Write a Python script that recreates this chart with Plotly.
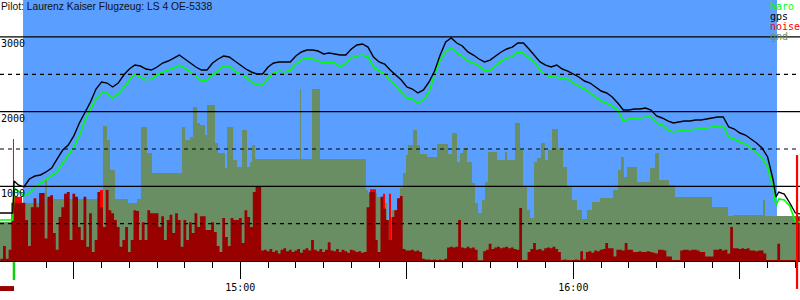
import plotly.graph_objects as go
import pandas as pd

DAY = "2000-01-01 "

# ---- flight track (sampled once per minute) ----
TRACK_TIMES = [
    "14:16", "14:17", "14:18", "14:19", "14:19:15", "14:20", "14:21", "14:22", "14:23", "14:24",
    "14:25", "14:26", "14:27", "14:28", "14:29", "14:30", "14:31", "14:32", "14:33", "14:34",
    "14:35", "14:36", "14:37", "14:38", "14:39", "14:40", "14:41", "14:42", "14:43", "14:44",
    "14:45", "14:46", "14:47", "14:48", "14:49", "14:50", "14:51", "14:52", "14:53", "14:54",
    "14:55", "14:56", "14:57", "14:58", "14:59", "15:00", "15:01", "15:02", "15:03", "15:04",
    "15:05", "15:06", "15:07", "15:08", "15:09", "15:10", "15:11", "15:12", "15:13", "15:14",
    "15:15", "15:16", "15:17", "15:18", "15:19", "15:20", "15:21", "15:22", "15:23", "15:24",
    "15:25", "15:26", "15:27", "15:28", "15:29", "15:30", "15:31", "15:32", "15:33", "15:34",
    "15:35", "15:36", "15:37", "15:38", "15:39", "15:40", "15:41", "15:42", "15:43", "15:44",
    "15:45", "15:46", "15:47", "15:48", "15:49", "15:50", "15:51", "15:52", "15:53", "15:54",
    "15:55", "15:56", "15:57", "15:58", "15:59", "16:00", "16:01", "16:02", "16:03", "16:04",
    "16:05", "16:06", "16:07", "16:08", "16:09", "16:10", "16:11", "16:12", "16:13", "16:14",
    "16:15", "16:16", "16:17", "16:18", "16:19", "16:20", "16:21", "16:22", "16:23", "16:24",
    "16:25", "16:26", "16:27", "16:28", "16:29", "16:30", "16:31", "16:32", "16:33", "16:34",
    "16:35", "16:36", "16:36:30", "16:37", "16:38", "16:39", "16:40", "16:41",
]

GPS_ALT = [
    643, 643, 643, 643, 1071, 1018, 991, 1098, 1138, 1152,
    1192, 1245, 1366, 1486, 1553, 1674, 1848, 1982, 2129, 2303,
    2397, 2383, 2330, 2383, 2491, 2571, 2624, 2611, 2571, 2557,
    2598, 2651, 2678, 2718, 2758, 2705, 2651, 2598, 2557, 2557,
    2651, 2705, 2745, 2732, 2678, 2624, 2571, 2531, 2504, 2504,
    2598, 2651, 2665, 2665, 2665, 2745, 2799, 2825, 2825, 2812,
    2772, 2785, 2772, 2758, 2758, 2839, 2892, 2906, 2865, 2732,
    2665, 2638, 2557, 2491, 2424, 2330, 2303, 2250, 2290, 2397,
    2544, 2758, 2932, 2986, 2919, 2879, 2799, 2758, 2705, 2665,
    2691, 2745, 2799, 2839, 2865, 2919, 2919, 2839, 2758, 2665,
    2624, 2598, 2624, 2571, 2544, 2504, 2464, 2410, 2383, 2330,
    2276, 2250, 2196, 2116, 2022, 2022, 2035, 2035, 2049, 2022,
    1942, 1915, 1875, 1848, 1861, 1875, 1875, 1888, 1888, 1901,
    1915, 1928, 1928, 1794, 1767, 1714, 1687, 1634, 1580, 1513,
    1393, 1085, 857, 924, 897, 777, 643, 629,
]

BARO_ALT = [
    549, 549, 549, 549, 977, 937, 870, 911, 991, 1044,
    1085, 1138, 1192, 1312, 1419, 1526, 1674, 1888, 2035, 2169,
    2250, 2250, 2183, 2236, 2316, 2424, 2504, 2464, 2424, 2437,
    2491, 2531, 2557, 2584, 2624, 2584, 2531, 2477, 2410, 2424,
    2491, 2557, 2611, 2611, 2544, 2504, 2464, 2397, 2357, 2357,
    2450, 2517, 2544, 2531, 2557, 2638, 2691, 2718, 2705, 2678,
    2651, 2665, 2651, 2598, 2651, 2718, 2745, 2758, 2732, 2598,
    2544, 2504, 2424, 2343, 2263, 2183, 2169, 2116, 2156, 2263,
    2504, 2691, 2812, 2852, 2785, 2745, 2678, 2651, 2611, 2544,
    2557, 2624, 2678, 2718, 2732, 2799, 2785, 2718, 2665, 2557,
    2491, 2464, 2464, 2437, 2437, 2383, 2343, 2303, 2250, 2196,
    2142, 2116, 2075, 2022, 1875, 1901, 1915, 1915, 1928, 1928,
    1848, 1821, 1754, 1727, 1741, 1754, 1754, 1767, 1767, 1781,
    1794, 1808, 1808, 1660, 1634, 1593, 1567, 1513, 1446, 1379,
    1259, 977, 736, 830, 817, 736, 522, 522,
]

# ---- ground elevation (step profile) ----
GND_TIMES = [
    "14:16:42", "14:19:03", "14:24:48", "14:25:10", "14:34:43", "14:35:15", "14:35:59", "14:36:31",
    "14:37:25", "14:39:46", "14:41:23", "14:42:06", "14:43:11", "14:44:05", "14:49:29", "14:50:02",
    "14:50:56", "14:51:28", "14:52:12", "14:52:44", "14:53:38", "14:54:00", "14:55:26", "14:55:59",
    "14:57:14", "14:57:36", "14:58:41", "14:59:24", "15:00:18", "15:01:12", "15:01:45", "15:02:06",
    "15:02:39", "15:10:45", "15:10:56", "15:12:55", "15:14:21", "15:22:38", "15:23:00", "15:24:37",
    "15:25:31", "15:26:25", "15:27:20", "15:28:14", "15:28:46", "15:29:18", "15:29:51", "15:30:12",
    "15:31:07", "15:31:50", "15:32:22", "15:33:38", "15:35:26", "15:37:25", "15:38:08", "15:39:02",
    "15:39:35", "15:40:07", "15:40:50", "15:41:44", "15:42:17", "15:42:49", "15:43:32", "15:44:05",
    "15:44:37", "15:46:15", "15:47:41", "15:48:03", "15:49:29", "15:50:23", "15:50:56", "15:51:39",
    "15:52:11", "15:52:55", "15:53:27", "15:54:10", "15:54:53", "15:55:26", "15:56:09", "15:57:14",
    "15:58:08", "15:58:51", "15:59:45", "16:00:39", "16:01:33", "16:02:27", "16:03:22", "16:04:48",
    "16:07:09", "16:08:03", "16:08:35", "16:09:07", "16:09:40", "16:11:28", "16:13:49", "16:14:43",
    "16:15:26", "16:17:14", "16:18:19", "16:24:59", "16:27:52", "16:28:46", "16:34:10", "16:34:32",
    "16:40:50",
]
GND_ALT = [
    522, 777, 1085, 830, 951, 1808, 1620, 1218,
    830, 777, 830, 1794, 1446, 1178, 1794, 1620,
    1660, 2062, 1848, 1821, 1687, 2089, 1580, 1446,
    1245, 1794, 1352, 1259, 1754, 1259, 1326, 1553,
    1366, 2303, 1366, 2303, 1366, 951, 911, 857,
    777, 549, 683, 817, 977, 1178, 1419, 1553,
    1754, 1553, 1433, 1393, 1567, 1433, 1714, 1326,
    1446, 1513, 1326, 1044, 777, 643, 817, 1058,
    1459, 1352, 1459, 1352, 1848, 1486, 991, 683,
    576, 1326, 1379, 1580, 1352, 1486, 1767, 1513,
    1259, 991, 817, 683, 562, 683, 790, 844,
    951, 1218, 1393, 1125, 1259, 1058, 1245, 1446,
    1085, 1018, 857, 723, 603, 616, 817, 603,
    603,
]

# ---- noise (ENL), one value per 30 s starting 14:16:45 ----
NOISE_START = "14:16:45"
NOISE = [
    30, 200, 30, 150,
    780, 780, 780, 780, 780, 550, 200, 720, 840, 720,
    910, 910, 300, 860, 880, 375, 150, 590, 720, 900,
    925, 280, 900, 860, 455, 280, 860, 190, 640, 120,
    280, 925, 720, 455, 950, 680, 640, 550, 455, 190,
    280, 455, 120, 280, 680, 670, 280, 520, 280, 680,
    640, 640, 640, 455, 600, 280, 550, 620, 375, 640,
    550, 190, 550, 280, 520, 375, 640, 455, 600, 600,
    415, 415, 520, 390, 200, 120, 575, 320, 200, 575,
    550, 550, 575, 240, 680, 590, 455, 925, 990, 990,
    140, 150, 130, 160, 120, 140, 100, 150, 170, 130,
    150, 120, 140, 160, 110, 150, 170, 140, 280, 150,
    130, 160, 120, 150, 250, 140, 130, 160, 120, 150,
    130, 110, 150, 140, 120, 130, 110, 120, 720, 925,
    925, 280, 120, 860, 700, 550, 280, 590, 680, 840,
    870, 160, 140, 140, 150, 130, 140, 120, 30, 20,
    20, 15, 20, 15, 20, 15, 30, 180, 190, 180,
    190, 550, 180, 170, 190, 170, 180, 150, 10, 10,
    130, 150, 230, 160, 180, 190, 170, 180, 190, 170,
    180, 160, 150, 710, 15, 15, 120, 160, 240, 150,
    160, 140, 170, 180, 170, 190, 160, 120, 15, 20,
    15, 15, 15, 20, 15, 130, 20, 120, 130, 110,
    140, 130, 150, 160, 240, 170, 170, 60, 150, 150,
    140, 240, 150, 150, 120, 120, 130, 120, 120, 130,
    120, 110, 100, 150, 150, 140, 60, 60, 15, 15,
    15, 140, 150, 150, 140, 150, 150, 140, 120, 120,
    60, 60, 60, 150, 150, 160, 140, 150, 100, 455,
    170, 170, 160, 170, 160, 170, 140, 140, 130, 140,
    140, 100, 15, 15, 15, 15, 230, 15, 15, 15,
    15, 15, 15, 590, 0,
]

# noise peaks shown in bright red
PEAK_TIMES = ["14:19:02", "14:19:13", "14:20:40", "14:34:43", "14:35:15",
              "15:23:22", "15:24:27", "15:25:42", "15:26:04", "15:26:47", "15:27:09"]
PEAK_VALS = [1634, 860, 0, 950, 0, 960, 0, 900, 0, 900, 0]

# events / frame
X_START, X_END = "14:16:42", "16:40:50"
SKY_START, SKY_END = "14:20:51", "16:36:41"
TAKEOFF, LANDING = "14:19:13", "16:40:18"
Y_TOP = 3495
GRID_SOLID = [1000, 2000, 3000]
GRID_DASHED = [500, 1500, 2500]
Y_TICKS = [1000, 2000, 3000]
X_TICKS = ["14:30", "15:00", "15:30", "16:00", "16:30"]
X_TICK_TEXT = ["", "15:00", "", "16:00", ""]

TITLE = "Pilot: Laurenz Kaiser Flugzeug: LS 4 OE-5338"
LEGEND = [("baro", "#00ff00"), ("gps", "#000000"), ("noise", "#ff0000"), ("gnd", "#6a8e64")]

SKY = "#5a9eff"
GROUND = "#6a8e64"
DARKRED = "#990000"

assert len(TRACK_TIMES) == len(GPS_ALT) == len(BARO_ALT)
assert len(GND_TIMES) == len(GND_ALT)
assert len(PEAK_TIMES) == len(PEAK_VALS)


def d(t):
    return DAY + t


noise_x = pd.date_range(d(NOISE_START), periods=len(NOISE), freq="30s")

fig = go.Figure()
fig.add_trace(go.Scatter(x=[d(t) for t in GND_TIMES], y=GND_ALT, mode="lines",
                         line=dict(shape="hv", width=0, color=GROUND),
                         fill="tozeroy", fillcolor=GROUND, name="gnd"))
fig.add_trace(go.Scatter(x=[d(t) for t in PEAK_TIMES], y=PEAK_VALS, mode="lines",
                         line=dict(shape="hv", width=0, color="#ff0000"),
                         fill="tozeroy", fillcolor="#ff0000", name="noise peak"))
fig.add_trace(go.Scatter(x=noise_x, y=NOISE, mode="lines",
                         line=dict(shape="hv", width=0, color=DARKRED),
                         fill="tozeroy", fillcolor=DARKRED, name="noise"))
fig.add_trace(go.Scatter(x=[d(t) for t in TRACK_TIMES], y=BARO_ALT, mode="lines",
                         line=dict(color="#00ff00", width=1.6), name="baro"))
fig.add_trace(go.Scatter(x=[d(t) for t in TRACK_TIMES], y=GPS_ALT, mode="lines",
                         line=dict(color="#000000", width=1.4), name="gps"))

shapes = [dict(type="rect", xref="x", yref="paper", x0=d(SKY_START), x1=d(SKY_END),
               y0=0, y1=1, fillcolor=SKY, line=dict(width=0), layer="below")]
for v in GRID_SOLID:
    shapes.append(dict(type="line", xref="paper", yref="y", x0=0, x1=1, y0=v, y1=v,
                       line=dict(color="black", width=1.2), layer="above"))
for v in GRID_DASHED:
    shapes.append(dict(type="line", xref="paper", yref="y", x0=0, x1=1, y0=v, y1=v,
                       line=dict(color="black", width=1.2, dash="4px,4px"), layer="above"))
# takeoff / landing markers
shapes.append(dict(type="line", xref="x", yref="paper", x0=d(TAKEOFF), x1=d(TAKEOFF),
                   y0=-0.004, y1=-0.073, line=dict(color="#11cc11", width=2.5), layer="above"))
shapes.append(dict(type="line", xref="x", yref="paper", x0=d(LANDING), x1=d(LANDING),
                   y0=0.406, y1=-0.107, line=dict(color="#ff0000", width=2.2), layer="above"))
shapes.append(dict(type="rect", xref="paper", yref="paper", x0=0, x1=14 / 800,
                   y0=-0.096, y1=-0.115, fillcolor=DARKRED, line=dict(width=0)))

annotations = [dict(text=TITLE, xref="paper", yref="paper", x=0, y=(261 - 6.5) / 261,
                    xanchor="left", yanchor="middle", showarrow=False, borderpad=0,
                    font=dict(family="Liberation Sans, Arial", size=10.3, color="#111111"))]
for k, (name, col) in enumerate(LEGEND):
    annotations.append(dict(text=name, xref="paper", yref="paper", x=769 / 800,
                            y=(261 - (6.5 + 10 * k)) / 261, xanchor="left", yanchor="middle",
                            showarrow=False, borderpad=0,
                            font=dict(family="DejaVu Sans Mono", size=10, color=col)))

fig.update_layout(
    width=800, height=300,
    margin=dict(l=0, r=0, t=0, b=39, pad=0),
    paper_bgcolor="white", plot_bgcolor="white",
    showlegend=False,
    shapes=shapes, annotations=annotations,
    xaxis=dict(type="date", range=[d(X_START), d(X_END)], showgrid=False, zeroline=False,
               showline=True, linecolor="black", linewidth=1,
               ticks="outside", ticklen=17, tickwidth=1, tickcolor="black",
               tickmode="array", tickvals=[d(t) for t in X_TICKS], ticktext=X_TICK_TEXT,
               tickfont=dict(family="DejaVu Sans Mono", size=10, color="black"),
               minor=dict(ticks="outside", ticklen=6, tickwidth=1, tickcolor="black",
                          dtick=300000, tick0=d("14:00"), showgrid=False)),
    yaxis=dict(range=[0, Y_TOP], showgrid=False, zeroline=False, showline=False,
               tickmode="array", tickvals=Y_TICKS, ticktext=[str(v) for v in Y_TICKS],
               ticks="", ticklabelposition="inside", ticklabelshift=7, ticklabelstandoff=-2,
               tickfont=dict(family="DejaVu Sans Mono", size=10, color="black")),
)

fig.write_html("out.html")
